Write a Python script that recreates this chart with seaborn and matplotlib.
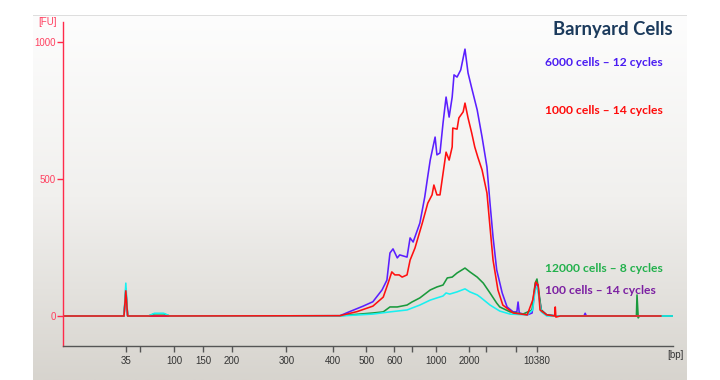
import numpy as np
import pandas as pd
import matplotlib
matplotlib.use("Agg")
import matplotlib.pyplot as plt
from matplotlib.colors import LinearSegmentedColormap
import seaborn as sns

# migration time (s) and fluorescence (FU)
blue_t = [20, 30.0, 30.3, 30.6, 36, 65.4, 67.0, 69.2, 70.8, 72.3, 73.1, 73.6, 74.1, 74.8, 75.2,
          76.4, 76.9, 77.4, 78.5, 79.3, 79.8, 80.2, 81.0, 81.3, 81.8, 82.3, 82.8, 83.3, 83.8,
          84.1, 84.6, 85.2, 85.9, 86.4, 87.0, 87.9, 88.7, 89.5, 90.0, 90.5, 91.1, 92.0, 92.8,
          93.8, 94.4, 94.6, 94.8, 96.1, 96.9, 97.4, 97.7, 97.9, 98.4, 99.3, 101, 105.4, 105.6,
          105.8, 120]
blue_fu = [0, 0, 90, 0, 0, 1, 16, 36, 52, 95, 131, 230, 245, 212, 223,
           215, 285, 270, 339, 434, 510, 569, 653, 588, 595, 704, 799, 726, 799,
           880, 872, 898, 974, 887, 832, 752, 653, 544, 412, 288, 168, 84, 33,
           15, 15, 51, 11, 4, 11, 106, 124, 95, 22, 4, 0, 0, 10,
           0, 0]

red_t = [20, 30.0, 30.3, 30.6, 36, 65.4, 68.2, 70.8, 72.5, 73.3, 73.9, 74.4, 75.1, 75.6, 76.4,
         76.9, 77.7, 78.9, 79.8, 80.5, 80.8, 81.3, 81.8, 82.3, 82.8, 83.3, 83.8, 83.9, 84.6,
         84.9, 85.6, 85.9, 86.4, 87.0, 87.5, 88.0, 88.7, 89.5, 90.0, 90.5, 91.3, 92.1, 93.8,
         96.1, 97.0, 97.5, 97.9, 98.2, 99.3, 100.6, 100.7, 100.8, 101.5, 118]
red_fu = [0, 0, 92, 0, 0, 1, 16, 36, 69, 120, 161, 150, 150, 142, 150,
          204, 248, 339, 412, 442, 478, 442, 442, 520, 598, 569, 617, 686, 682,
          723, 745, 777, 723, 668, 617, 580, 533, 449, 325, 204, 95, 40, 11,
          4, 58, 124, 113, 22, 4, 0, 33, -4, 0, 0]

green_t = [20, 30.0, 30.3, 30.6, 34, 35, 36.5, 37.5, 65.4, 70.8, 72.5, 73.6, 74.8, 76.4, 77.2,
           78.5, 80.2, 81.3, 82.3, 83.0, 83.8, 84.6, 85.9, 86.7, 87.9, 88.9, 90.0, 91.1, 91.6,
           93.3, 95.4, 96.9, 97.4, 97.7, 97.9, 98.4, 99.3, 101, 114.0, 114.1, 114.3, 114.5, 120]
green_fu = [0, 0, 100, 0, 0, 8, 8, 0, 1, 11, 15, 33, 33, 40, 51,
            66, 95, 106, 113, 139, 142, 157, 175, 161, 142, 120, 84, 47, 33,
            15, 7, 22, 120, 135, 106, 22, 4, 0, 0, 77, -7, 0, 0]

cyan_t = [20, 30.0, 30.3, 30.6, 34, 35, 36.5, 37.5, 65.4, 70.8, 73.6, 76.4, 78.5, 80.2, 81.3,
          82.3, 82.8, 83.4, 84.6, 85.9, 86.7, 87.9, 88.4, 90.0, 91.6, 93.3, 96.1, 97.0, 97.4,
          97.7, 97.9, 98.4, 99.3, 120]
cyan_fu = [0, 0, 120, 0, 0, 10, 10, 0, 0, 7, 15, 22, 40, 58, 66,
           73, 84, 80, 88, 99, 88, 77, 69, 40, 18, 7, 4, 22, 95,
           106, 84, 15, 0, 0]

# ladder sizes (bp) and their migration times
tick_pos = [30.3, 32.6, 38.2, 43.0, 47.7, 56.6, 64.3, 69.7, 74.3, 77.2, 81.1, 86.6, 89.3, 94.3, 97.7]
tick_lab = ["35", "", "100", "150", "200", "300", "400", "500", "600", "", "1000", "2000", "", "", "10380"]

samples = ["6000 cells – 12 cycles", "12000 cells – 8 cycles", "100 cells – 14 cycles", "1000 cells – 14 cycles"]
line_colors = ["#5b1fff", "#1a9a3c", "#19f0f0", "#ff1010"]
text_colors = {"6000 cells – 12 cycles": "#4a1cf2", "1000 cells – 14 cycles": "#ff0a0a",
               "12000 cells – 8 cycles": "#22b14c", "100 cells – 14 cycles": "#7b1fa2"}

df = pd.concat([
    pd.DataFrame({"t": blue_t, "fu": blue_fu, "sample": samples[0]}),
    pd.DataFrame({"t": green_t, "fu": green_fu, "sample": samples[1]}),
    pd.DataFrame({"t": cyan_t, "fu": cyan_fu, "sample": samples[2]}),
    pd.DataFrame({"t": red_t, "fu": red_fu, "sample": samples[3]}),
])

W, H = 720, 380
fig = plt.figure(figsize=(7.2, 3.8), dpi=100)
fig.patch.set_facecolor("white")

# gradient panel background
bg = fig.add_axes([33 / W, 0, (687 - 33) / W, (380 - 15) / H])
cmap = LinearSegmentedColormap.from_list("bg", ["#fdfdfd", "#f1f0ee", "#d7d4ce"])
bg.imshow(np.linspace(0, 1, 256).reshape(-1, 1), aspect="auto", cmap=cmap,
          extent=[0, 1, 0, 1], origin="upper")
bg.axhline(1, color="#d8d8d8", lw=1.2)
bg.set_axis_off()

ax = fig.add_axes([63 / W, 34 / H, 610 / W, 324 / H])
ax.patch.set_alpha(0)
sns.lineplot(data=df, x="t", y="fu", hue="sample", hue_order=samples, palette=line_colors,
             estimator=None, sort=False, legend=False, lw=1.15, ax=ax)

ax.set_xlim(20, 120)
ax.set_ylim(-109.5, 1073)
ax.set_xlabel("")
ax.set_ylabel("")
for s in ["top", "right"]:
    ax.spines[s].set_visible(False)
ax.spines["left"].set_color("#ff2a4a")
ax.spines["left"].set_linewidth(1.0)
ax.spines["bottom"].set_color("#555555")
ax.spines["bottom"].set_linewidth(1.0)

ax.set_yticks([0, 500, 1000])
ax.set_yticklabels(["0", "500", "1000"])
ax.tick_params(axis="y", colors="#ff2a4a", labelcolor="#ff4060", length=4, width=1,
               labelsize=7, pad=1)
ax.set_xticks(tick_pos)
ax.set_xticklabels(tick_lab)
ax.tick_params(axis="x", colors="#555555", labelcolor="#333333", length=4, width=1,
               labelsize=7, pad=3)
for lab in ax.get_xticklabels() + ax.get_yticklabels():
    lab.set_family("Liberation Sans")

fig.text(38 / W, 1 - 22 / H, "[FU]", color="#ff4060", fontsize=7, family="Liberation Sans",
         ha="left", va="center")
fig.text(684 / W, 1 - 355 / H, "[bp]", color="#333333", fontsize=7, family="Liberation Sans",
         ha="right", va="center")

fig.text(673 / W, 1 - 29 / H, "Barnyard Cells", color="#1b3a5c", fontsize=13.3, fontweight="bold",
         family="Lato", ha="right", va="center")
label_y = {"6000 cells – 12 cycles": 63, "1000 cells – 14 cycles": 111,
           "12000 cells – 8 cycles": 269, "100 cells – 14 cycles": 291}
for name, y in label_y.items():
    fig.text(545 / W, 1 - y / H, name, color=text_colors[name], fontsize=8.7, fontweight="bold",
             family="Lato", ha="left", va="center")

fig.savefig("out.png", dpi=100)
